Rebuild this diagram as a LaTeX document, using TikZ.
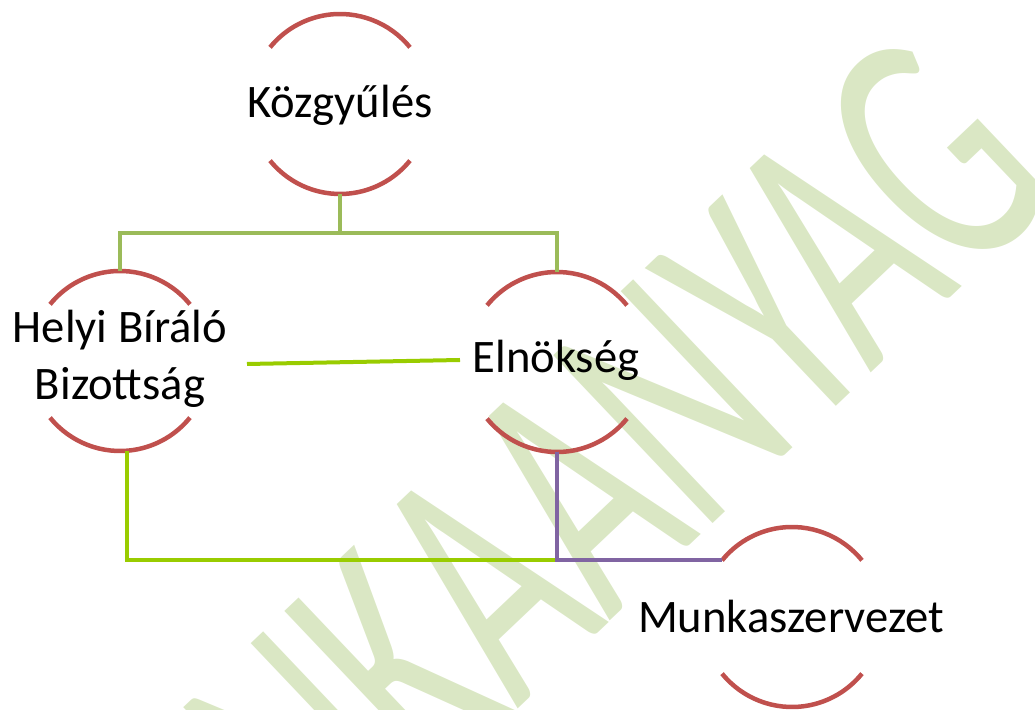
\documentclass[tikz,border=0pt]{standalone}
\usepackage{fontspec}
\setmainfont{Carlito}
\newfontfamily\wmfont{Carlito}
\definecolor{arcred}{HTML}{C0504D}
\definecolor{olivegr}{HTML}{9BBB59}
\definecolor{brightgr}{HTML}{99CC00}
\definecolor{purp}{HTML}{8064A2}
\definecolor{wmgreen}{HTML}{DAE7C4}
\tikzset{
  ring/.style={circle, minimum size=180pt, inner sep=0pt, outer sep=0pt},
  arcst/.style={draw=arcred, line width=4.5pt},
  lbl/.style={font=\fontsize{46.6}{57}\selectfont, inner sep=0pt, align=center, anchor=base},
  oliveline/.style={draw=olivegr, line width=4pt},
  brightline/.style={draw=brightgr, line width=4pt},
  purpline/.style={draw=purp, line width=4pt},
  wm/.style={font=\wmfont\fontsize{220}{220}\selectfont, text=wmgreen, inner sep=0pt, anchor=base west, transform shape}
}
\begin{document}
\begin{tikzpicture}[x=1pt,y=1pt]
\useasboundingbox (0,0) rectangle (1035,709);
\begin{scope}
  \clip (0,0) rectangle (1035,709);
  \begin{scope}[shift={(92,-404)}, rotate=43.5, yscale=1.64]
    \node[wm] (wmark) at (0,0) {MUNKAANYAG};
  \end{scope}
\end{scope}
% rings
\node[ring] (K) at (340,605) {};
\node[ring] (H) at (120,348) {};
\node[ring] (E) at (557,347) {};
\node[ring] (M) at (792,92) {};
\foreach \n in {K,H,E,M}{
  \draw[arcst] (\n.39) arc[start angle=39, end angle=141, radius=90pt];
  \draw[arcst] (\n.219) arc[start angle=219, end angle=321, radius=90pt];
}
% labels
\node[lbl] (Kt) at (340,591) {Közgyűlés};
\node[lbl] (Ht) at (120,309) {Helyi Bíráló\\Bizottság};
\node[lbl] (Et) at (556,336) {Elnökség};
\node[lbl] (Mt) at (791,77) {Munkaszervezet};
% connectors
\draw[oliveline] (K.south) -- ++(0,-39) coordinate (kj);
\draw[oliveline] (kj) -| (H.north);
\draw[oliveline] (kj) -| (E.north);
\draw[brightline] ([shift={(37,-3)}]H.east) -- ([shift={(-7,2)}]E.west);
\draw[brightline] ([xshift=7pt]H.south) |- ([xshift=-1pt]E.south |- M.141);
\draw[purpline] (E.south) |- (M.141);
\end{tikzpicture}
\end{document}
